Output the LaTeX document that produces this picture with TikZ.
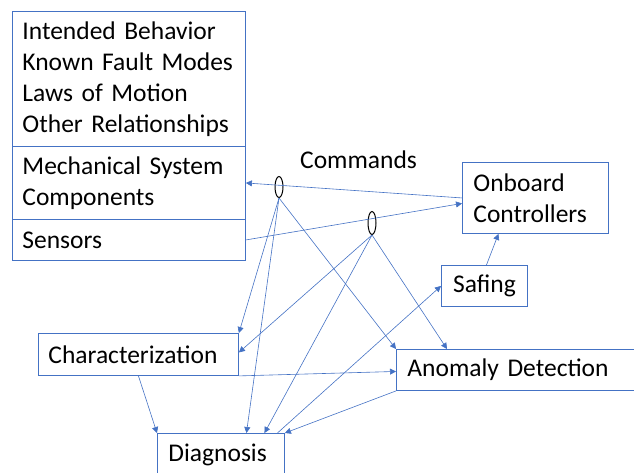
\documentclass[tikz,border=0pt]{standalone}
\usepackage{fontspec}
\setmainfont{Carlito}
\usetikzlibrary{arrows.meta,shapes.geometric}
\definecolor{obl}{RGB}{68,114,196}
\begin{document}
\begin{tikzpicture}[x=1pt,y=-1pt,
  box/.style={draw=obl, line width=0.9pt, rectangle, anchor=north west, align=left,
    inner xsep=10pt, inner ysep=0pt, font=\fontsize{25.5}{31}\selectfont},
  conn/.style={draw=obl, line width=0.6pt, -{Triangle[length=6pt,width=6pt]}},
  ell/.style={draw=black, ellipse, line width=1pt, minimum width=8pt, minimum height=21pt, inner sep=0pt},
  lbl/.style={font=\fontsize{25.5}{31}\selectfont, anchor=base west, inner sep=0pt}]
\useasboundingbox (0,0) rectangle (634,472);
\clip (0,0) rectangle (634,472);
% stacked model box
\node[box, minimum width=233pt, minimum height=135pt, text width=213pt] (know) at (12,11)
  {Intended Behavior\\Known Fault Modes\\Laws of Motion\\Other Relationships};
\node[box, minimum width=233pt, minimum height=73pt, text width=213pt] (mech) at (12,146)
  {Mechanical System\\Components};
\node[box, minimum width=233pt, minimum height=41pt, text width=213pt] (sens) at (12,219)
  {Sensors};
% other boxes
\node[box, minimum width=146pt, minimum height=71pt, text width=124pt] (onb) at (462,162)
  {Onboard\\Controllers};
\node[box, minimum width=86pt, minimum height=41pt, inner xsep=11pt] (safe) at (441,265) {Safing};
\node[box, minimum width=200pt, minimum height=42pt, text width=180pt] (char) at (38,333) {Characterization};
\node[box, minimum width=250pt, minimum height=41pt, text width=228pt, inner xsep=11pt] (anom) at (396,349) {Anomaly Detection};
\node[box, minimum width=127pt, minimum height=42pt, text width=105pt, inner xsep=11pt] (diag) at (157,433) {Diagnosis};
% commands label and junction ellipses
\node[lbl] (cmd) at (300,168) {Commands};
\node[ell] (e1) at (279,187) {};
\node[ell, minimum height=23pt] (e2) at (372,223) {};
% connectors
\draw[conn] (onb.west) -- (mech.east);
\draw[conn] (sens.east) -- ([yshift=-5.5pt]onb.west);
\draw[conn] (e1.south) -- (char.north east);
\draw[conn] (e1.south) -- ([xshift=25.5pt]diag.north);
\draw[conn] (e1.south) -- (anom.north west);
\draw[conn] (e2.south) -- ([yshift=2pt]char.east);
\draw[conn] (e2.south) -- ([xshift=43.5pt]diag.north);
\draw[conn] (e2.south) -- ([xshift=51pt]anom.north west);
\draw[conn] ([xshift=56.5pt]diag.north) -- (safe.west);
\draw[conn] (anom.south west) -- (diag.north east);
\draw[conn] (char.south east) -- ([yshift=-1.5pt]anom.west);
\draw[conn] (char.south) -- (diag.north west);
\draw[conn] ([xshift=2pt]safe.north) -- ([xshift=-37pt]onb.south);
\end{tikzpicture}
\end{document}
